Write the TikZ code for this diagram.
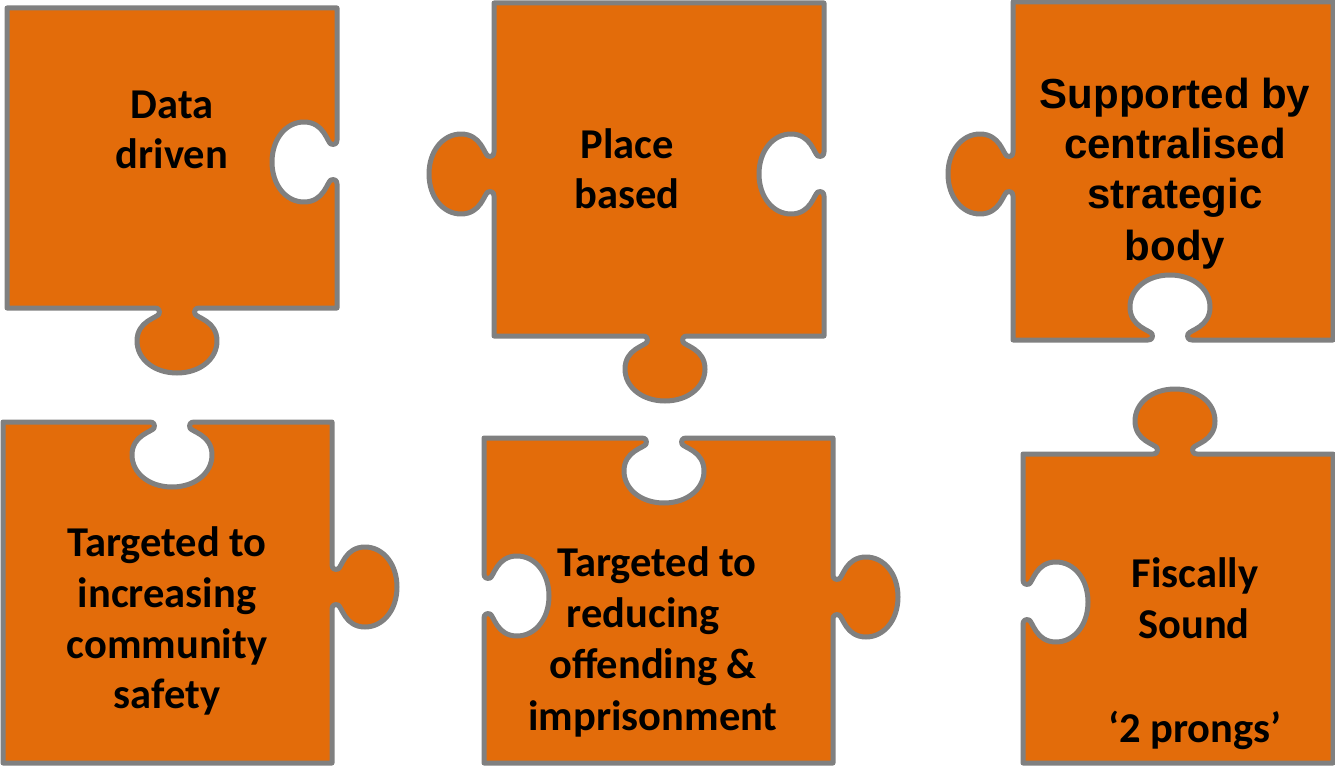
\documentclass[tikz,border=0pt]{standalone}
\usepackage{fontspec}
\setmainfont{Carlito}
\newfontfamily\arialf{Liberation Sans}
\definecolor{pzorange}{RGB}{227,108,10}
\definecolor{pzgray}{RGB}{128,128,128}
\tikzset{
  piece/.style={fill=pzorange, draw=pzgray, line width=5pt, line join=round},
  lbl/.style={font=\bfseries\fontsize{42.5}{50}\selectfont, anchor=base, inner sep=0pt, text=black},
  lblarial/.style={font=\arialf\bfseries\fontsize{42}{50}\selectfont, anchor=base, inner sep=0pt, text=black}
}
% point in local frame of a tab: p along edge, q outward (s=1) or inward (s=-1)
\newcommand\pzPt[2]{({\ta+(#1)*(\tux)+(#2)*(\ts)*(\tuy)},{\tb+(#1)*(\tuy)-(#2)*(\ts)*(\tux)})}
\newcommand\pzStart[1]{\def\pth{#1}}
\newcommand\pzTo[1]{\edef\pth{\pth -- #1}}
\newcommand\pzTab[5]{\def\ta{#1}\def\tb{#2}\def\tux{#3}\def\tuy{#4}\def\ts{#5}%
  \edef\pth{\pth -- \pzPt{-22}{0}
   .. controls \pzPt{-18}{0} and \pzPt{-17}{3} .. \pzPt{-18}{6}
   .. controls \pzPt{-20}{10} and \pzPt{-40}{13} .. \pzPt{-40}{33}
   .. controls \pzPt{-40}{51} and \pzPt{-23}{65} .. \pzPt{0}{65}
   .. controls \pzPt{23}{65} and \pzPt{40}{51} .. \pzPt{40}{33}
   .. controls \pzPt{40}{13} and \pzPt{20}{10} .. \pzPt{18}{6}
   .. controls \pzPt{17}{3} and \pzPt{18}{0} .. \pzPt{22}{0}}}
\begin{document}
\begin{tikzpicture}[x=1pt,y=-1pt]
\useasboundingbox (0,0) rectangle (1335,768);

% Piece 1: Data driven
\pzStart{(7,8)}
\pzTo{(337,8)}
\pzTab{337}{162}{0}{1}{-1}
\pzTo{(337,308)}
\pzTab{177}{308}{-1}{0}{1}
\pzTo{(7,308)}
\draw[piece] \pth -- cycle;

% Piece 2: Place based
\pzStart{(494,3)}
\pzTo{(824,3)}
\pzTab{824}{174}{0}{1}{-1}
\pzTo{(824,336)}
\pzTab{665}{336}{-1}{0}{1}
\pzTo{(494,336)}
\pzTab{494}{174}{0}{-1}{1}
\draw[piece] \pth -- cycle;

% Piece 3: Supported by centralised strategic body
\pzStart{(1013,2)}
\pzTo{(1333,2)}
\pzTo{(1333,340)}
\pzTab{1170}{340}{-1}{0}{-1}
\pzTo{(1013,340)}
\pzTab{1013}{174}{0}{-1}{1}
\draw[piece] \pth -- cycle;

% Piece 4: Targeted to increasing community safety
\pzStart{(3,422)}
\pzTab{172}{422}{1}{0}{-1}
\pzTo{(332,422)}
\pzTab{332}{587}{0}{1}{1}
\pzTo{(332,763)}
\pzTo{(3,763)}
\draw[piece] \pth -- cycle;

% Piece 5: Targeted to reducing offending & imprisonment
\pzStart{(484,438)}
\pzTab{664}{438}{1}{0}{-1}
\pzTo{(833,438)}
\pzTab{833}{597}{0}{1}{1}
\pzTo{(833,763)}
\pzTo{(484,763)}
\pzTab{484}{596}{0}{-1}{-1}
\draw[piece] \pth -- cycle;

% Piece 6: Fiscally Sound
\pzStart{(1023,454)}
\pzTab{1175}{454}{1}{0}{1}
\pzTo{(1333,454)}
\pzTo{(1333,763)}
\pzTo{(1023,763)}
\pzTab{1023}{602}{0}{-1}{-1}
\draw[piece] \pth -- cycle;

% Labels
\node[lbl] (t1a) at (172,118) {Data};
\node[lbl] (t1b) at (172,168) {driven};

\node[lbl] (t2a) at (627,158) {Place};
\node[lbl] (t2b) at (627,208) {based};

\node[lblarial] (t3a) at (1175,108) {Supported by};
\node[lblarial] (t3b) at (1175,158) {centralised};
\node[lblarial] (t3c) at (1175,208) {strategic};
\node[lblarial] (t3d) at (1175,260) {body};

\node[lbl] (t4a) at (167,556) {Targeted to};
\node[lbl] (t4b) at (167,607) {increasing};
\node[lbl] (t4c) at (167,658) {community};
\node[lbl] (t4d) at (167,708) {safety};

\node[lbl] (t5a) at (657,576) {Targeted to};
\node[lbl] (t5b) at (643,627) {reducing};
\node[lbl] (t5c) at (653,678) {offending \&};
\node[lbl] (t5d) at (653,730) {imprisonment};

\node[lbl] (t6a) at (1195,587) {Fiscally};
\node[lbl] (t6b) at (1194,638) {Sound};
\node[lbl] (t6c) at (1195,742) {‘2 prongs’};
\end{tikzpicture}
\end{document}
